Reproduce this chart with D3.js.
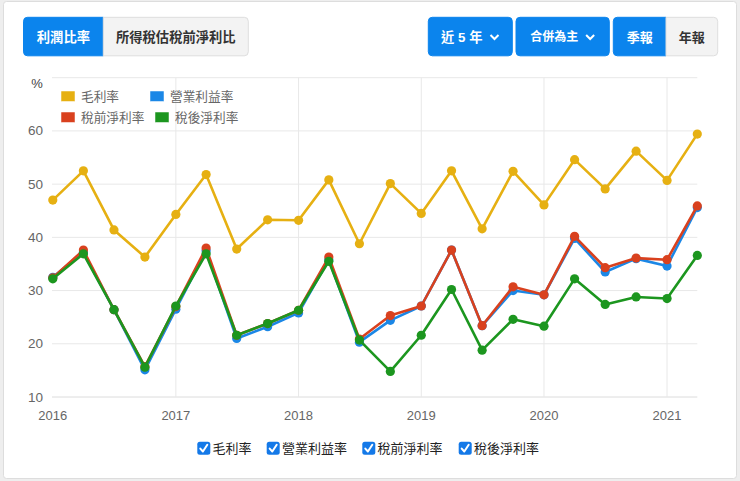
<!DOCTYPE html>
<html><head><meta charset="utf-8">
<script src="https://cdn.jsdelivr.net/npm/d3@7"></script>
<style>
html,body{margin:0;padding:0;background:#eeeeee;}
svg{display:block;}
text{font-family:"Liberation Sans","Noto Sans CJK TC",Arial,sans-serif;}
.cjk{font-family:"Liberation Sans","Noto Sans CJK TC",sans-serif;}
</style></head>
<body>
<svg id="c" width="740" height="481"></svg>
<script>
const quarters = ["2016-01","2016-04","2016-07","2016-10","2017-01","2017-04","2017-07","2017-10",
  "2018-01","2018-04","2018-07","2018-10","2019-01","2019-04","2019-07","2019-10",
  "2020-01","2020-04","2020-07","2020-10","2021-01","2021-04"];
const grossMargin = [47.0,52.5,41.4,36.3,44.3,51.8,37.8,43.3,43.2,50.8,38.8,50.1,44.5,52.5,41.6,52.4,46.1,54.6,49.1,56.2,50.7,59.4];
const operatingMargin = [32.5,37.2,26.4,15.1,26.5,37.5,21.0,23.2,25.8,35.8,20.3,24.4,27.1,37.6,23.4,30.0,29.2,39.8,33.5,36.0,34.6,45.6];
const pretaxMargin = [32.4,37.6,26.4,15.7,27.0,38.0,21.6,23.8,26.3,36.3,20.9,25.3,27.1,37.6,23.4,30.7,29.2,40.2,34.3,36.1,35.8,45.9];
const netMargin = [32.2,36.9,26.4,15.6,27.1,36.9,21.6,23.8,26.3,35.5,20.7,14.8,21.6,30.2,18.8,24.6,23.3,32.2,27.4,28.8,28.5,36.6];
const seriesNames = ["毛利率","營業利益率","稅前淨利率","稅後淨利率"];
const seriesColors = ["#e6b012","#1b87e6","#d9411e","#1c961f"];
const yTicks = [10,20,30,40,50,60,70];
const leftButtons = ["利潤比率","所得稅估稅前淨利比"];
const rightButtons = ["近 5 年","合併為主","季報","年報"];

const svg = d3.select("#c");
const parse = d3.timeParse("%Y-%m");
const dates = quarters.map(parse);
const series = [grossMargin, operatingMargin, pretaxMargin, netMargin];

// card
svg.append("rect").attr("x",3.5).attr("y",1.5).attr("width",733).attr("height",477)
  .attr("rx",3).attr("fill","#fff").attr("stroke","#dddddd");

// buttons
const blue = "#0b84ed";
function button(x0,x1,label,active,chev,rl,rr,fs){
  const g = svg.append("g");
  const h = 38.5, y0 = 17.3, r = 4;
  const w = x1-x0;
  const p = d3.path();
  p.moveTo(x0+(rl?r:0), y0);
  p.lineTo(x1-(rr?r:0), y0);
  if(rr) p.arcTo(x1,y0,x1,y0+r,r);
  p.lineTo(x1, y0+h-(rr?r:0));
  if(rr) p.arcTo(x1,y0+h,x1-r,y0+h,r);
  p.lineTo(x0+(rl?r:0), y0+h);
  if(rl) p.arcTo(x0,y0+h,x0,y0+h-r,r);
  p.lineTo(x0, y0+(rl?r:0));
  if(rl) p.arcTo(x0,y0,x0+r,y0,r);
  p.closePath();
  g.append("path").attr("d",p.toString()).attr("fill",active?blue:"#f3f3f3")
    .attr("stroke",active?blue:"#dedede").attr("stroke-width",1);
  const t = g.append("text").attr("class","cjk").attr("y",y0+h/2+0.5)
    .attr("dominant-baseline","central")
    .attr("font-size",fs||13.3).attr("font-weight",600)
    .attr("fill",active?"#fff":"#333").text(label);
  const tw = t.node().getComputedTextLength();
  if(chev){
    const total = tw + 7 + 10;
    const sx = x0 + w/2 - total/2;
    t.attr("x",sx);
    const chx = sx + tw + 7 + 5;
    const cy = y0 + h/2 + 0.5;
    g.append("path").attr("d",`M${chx-4},${cy-2} L${chx},${cy+2} L${chx+4},${cy-2}`)
      .attr("fill","none").attr("stroke","#fff").attr("stroke-width",2);
  } else {
    t.attr("x",x0 + w/2 - tw/2);
  }
}
button(23.5,103.3,leftButtons[0],true,false,true,false);
button(103.3,248.3,leftButtons[1],false,false,false,true);
button(428.3,512.3,rightButtons[0],true,true,true,true);
button(516,609.3,rightButtons[1],true,true,true,true,12);
button(613.3,666,rightButtons[2],true,false,true,false,13);
button(666,717.7,rightButtons[3],false,false,false,true,13);

// scales
const x = d3.scaleTime().domain([parse("2016-01"), parse("2021-04")]).range([52.8, 697.3]);
const y = d3.scaleLinear().domain([10,70]).range([397, 77.7]);

// horizontal grid
svg.append("g").selectAll("line").data(yTicks).join("line")
  .attr("x1",52).attr("x2",697.3)
  .attr("y1",d=>y(d)).attr("y2",d=>y(d))
  .attr("stroke",d=>d===10?"#dcdcdc":"#e8e8e8").attr("stroke-width",1);
// vertical grid at years
const yearTicks = x.ticks(d3.timeYear.every(1));
svg.append("g").selectAll("line").data(yearTicks.filter(d=>d.getFullYear()>2016)).join("line")
  .attr("x1",d=>x(d)).attr("x2",d=>x(d)).attr("y1",y(70)).attr("y2",y(10))
  .attr("stroke","#e8e8e8");

// y labels
svg.append("g").selectAll("text").data(yTicks.filter(d=>d<70)).join("text")
  .attr("x",43).attr("y",d=>y(d)).attr("text-anchor","end").attr("dominant-baseline","central")
  .attr("font-size",13.5).attr("fill","#666").text(d=>d);
// x labels
svg.append("g").selectAll("text").data(yearTicks).join("text")
  .attr("x",d=>x(d)).attr("y",415.5).attr("text-anchor","middle").attr("dominant-baseline","central")
  .attr("font-size",13).attr("fill","#666").text(d3.timeFormat("%Y"));
svg.append("text").attr("x",37).attr("y",83.5).attr("text-anchor","middle").attr("dominant-baseline","central")
  .attr("font-size",13).attr("fill","#444").text("%");

// lines
const line = d3.line().x((d,i)=>x(dates[i])).y(d=>y(d));
series.forEach((s,k)=>{
  const g = svg.append("g");
  g.append("path").attr("d",line(s)).attr("fill","none").attr("stroke",seriesColors[k])
    .attr("stroke-width",2.6).attr("stroke-linejoin","round");
  g.selectAll("circle").data(s).join("circle")
    .attr("cx",(d,i)=>x(dates[i])).attr("cy",d=>y(d)).attr("r",4.6).attr("fill",seriesColors[k]);
});

// in-chart legend
const legPos = [[61,96],[150,96],[61,117],[155,117]];
seriesNames.forEach((n,k)=>{
  const [lx,ly] = legPos[k];
  svg.append("rect").attr("x",lx).attr("y",ly-5).attr("width",14).attr("height",10.5)
    .attr("fill",seriesColors[k]).attr("stroke","#fff").attr("stroke-width",0.5);
  svg.append("text").attr("class","cjk").attr("x",lx+20).attr("y",ly+0.5).attr("dominant-baseline","central")
    .attr("font-size",12.7).attr("fill","#666").text(n);
});

// bottom checkbox legend
const cbPos = [197.3,266.7,362.3,458.7];
seriesNames.forEach((n,k)=>{
  const cx = cbPos[k], cy = 448.3;
  svg.append("rect").attr("x",cx).attr("y",cy-6.5).attr("width",13).attr("height",13).attr("rx",2.5)
    .attr("fill","#1479e8");
  svg.append("path").attr("d",`M${cx+3},${cy+0.3} L${cx+5.6},${cy+3.2} L${cx+10},${cy-3.5}`)
    .attr("fill","none").attr("stroke","#fff").attr("stroke-width",2).attr("stroke-linecap","round").attr("stroke-linejoin","round");
  svg.append("text").attr("class","cjk").attr("x",cx+15.3).attr("y",cy+0.5).attr("dominant-baseline","central")
    .attr("font-size",13).attr("fill","#222").text(n);
});
</script>
</body></html>
